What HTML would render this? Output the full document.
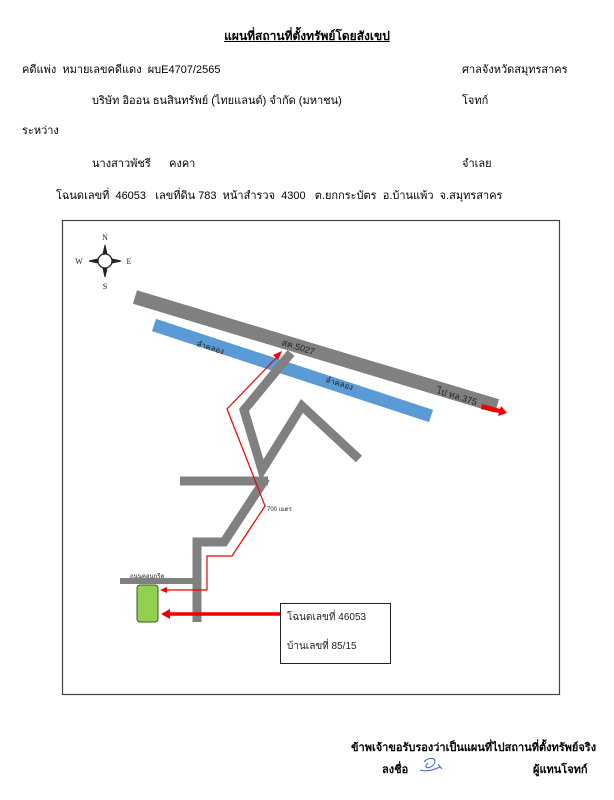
<!DOCTYPE html>
<html><head><meta charset="utf-8"><style>
body{margin:0;background:#fff;width:614px;height:800px;position:relative;overflow:hidden;font-family:"Liberation Sans","DejaVu Sans",sans-serif;font-size:11px;color:#000}
.t{position:absolute;white-space:nowrap;line-height:12px}
</style></head><body>
<div class="t" style="left:0;width:614px;text-align:center;top:30px;font-weight:bold;text-decoration:underline;font-size:12px">แผนที่สถานที่ตั้งทรัพย์โดยสังเขป</div>
<div class="t" style="left:22px;top:64px">คดีแพ่ง &nbsp;หมายเลขคดีแดง &nbsp;ผบE4707/2565</div>
<div class="t" style="left:462px;top:64px">ศาลจังหวัดสมุทรสาคร</div>
<div class="t" style="left:92px;top:95px">บริษัท อิออน ธนสินทรัพย์ (ไทยแลนด์) จำกัด (มหาชน)</div>
<div class="t" style="left:462px;top:95px">โจทก์</div>
<div class="t" style="left:22px;top:125px">ระหว่าง</div>
<div class="t" style="left:92px;top:158px">นางสาวพัชรี &nbsp;&nbsp;&nbsp;&nbsp;&nbsp;คงคา</div>
<div class="t" style="left:462px;top:158px">จำเลย</div>
<div class="t" style="left:56px;top:190px">โฉนดเลขที่ &nbsp;46053 &nbsp;&nbsp;เลขที่ดิน 783 &nbsp;หน้าสำรวจ &nbsp;4300 &nbsp;&nbsp;ต.ยกกระบัตร &nbsp;อ.บ้านแพ้ว &nbsp;จ.สมุทรสาคร</div>

<svg style="position:absolute;left:0;top:0" width="614" height="800">
<rect x="62.5" y="220.5" width="497" height="474" fill="none" stroke="#444" stroke-width="1.2"/>
<g stroke="#222" fill="#fff">
<circle cx="105" cy="261" r="7" stroke-width="1.3"/>
<polygon points="105,245 103,254 107,254" fill="#222"/>
<polygon points="105,277 103,268 107,268" fill="#222"/>
<polygon points="89,261 98,259 98,263" fill="#222"/>
<polygon points="121,261 112,259 112,263" fill="#222"/>
</g>
<g font-family="Liberation Serif,serif" font-size="8" fill="#222" text-anchor="middle">
<text x="105" y="240">N</text><text x="105" y="289">S</text><text x="79" y="264">W</text><text x="129" y="264">E</text></g>
<line x1="154" y1="325" x2="431" y2="416" stroke="#5b9bd5" stroke-width="13"/>
<line x1="135" y1="297" x2="497" y2="406" stroke="#808080" stroke-width="14"/>
<g stroke="#808080" stroke-width="9" fill="none" stroke-linejoin="miter">
<polyline points="291,353 244,410 262,470 302,406 359,459"/>
<line x1="180" y1="481" x2="268" y2="481"/>
<polyline points="266,478 224,542 197,542 197,622"/>
</g>
<line x1="120" y1="581" x2="198" y2="581" stroke="#808080" stroke-width="6"/>
<rect x="137" y="585" width="21" height="37" rx="3" fill="#92d050" stroke="#375623" stroke-width="1"/>
<polyline points="207,590 207,556 232,556 265,506 251,470 227,409 278,356" fill="none" stroke="#e00" stroke-width="1.2"/>
<polygon points="282,351 273,355 278,360" fill="#e00"/>
<line x1="207" y1="590" x2="165" y2="590" stroke="#e00" stroke-width="1.2"/>
<polygon points="160,590 167,587 167,593" fill="#e00"/>
<line x1="282" y1="614" x2="168" y2="614" stroke="#e00" stroke-width="3.5"/>
<polygon points="161,614 170,609 170,619" fill="#e00"/>
<polygon points="482,404 500,409 501,406 507,413 498,416 499,413 481,409" fill="#e00"/>
<rect x="280.5" y="603.5" width="110" height="60" fill="#fff" stroke="#222"/>
<g font-family="Liberation Sans,sans-serif" fill="#222">
<text x="0" y="0" font-size="8" transform="translate(196,346) rotate(17)">ลำคลอง</text>
<text x="0" y="0" font-size="8" transform="translate(325,382) rotate(17)">ลำคลอง</text>
<text x="0" y="0" font-size="9" transform="translate(281,345) rotate(17)">สค.5027</text>
<text x="0" y="0" font-size="9" transform="translate(436,393) rotate(17)">ไป ทล.375</text>
<text x="267" y="511" font-size="6">700 เมตร</text>
<text x="130" y="578" font-size="6">ถนนคอนกรีต</text>
<text x="287" y="620" font-size="10">โฉนดเลขที่ 46053</text>
<text x="287" y="649" font-size="10">บ้านเลขที่ 85/15</text>
</g>
<path d="M352,768 c5,-6 14,-4 10,2 c-4,6 -12,4 -6,-1 M348,776 c6,2 14,0 20,-3 M366,770 l4,5" transform="translate(72,-6)" fill="none" stroke="#4060c0" stroke-width="1"/>
</svg>
<div class="t" style="left:351px;top:742px;font-weight:bold">ข้าพเจ้าขอรับรองว่าเป็นแผนที่ไปสถานที่ตั้งทรัพย์จริง</div>
<div class="t" style="left:382px;top:764px;font-weight:bold">ลงชื่อ</div>
<div class="t" style="left:533px;top:764px;font-weight:bold">ผู้แทนโจทก์</div>
</body></html>
